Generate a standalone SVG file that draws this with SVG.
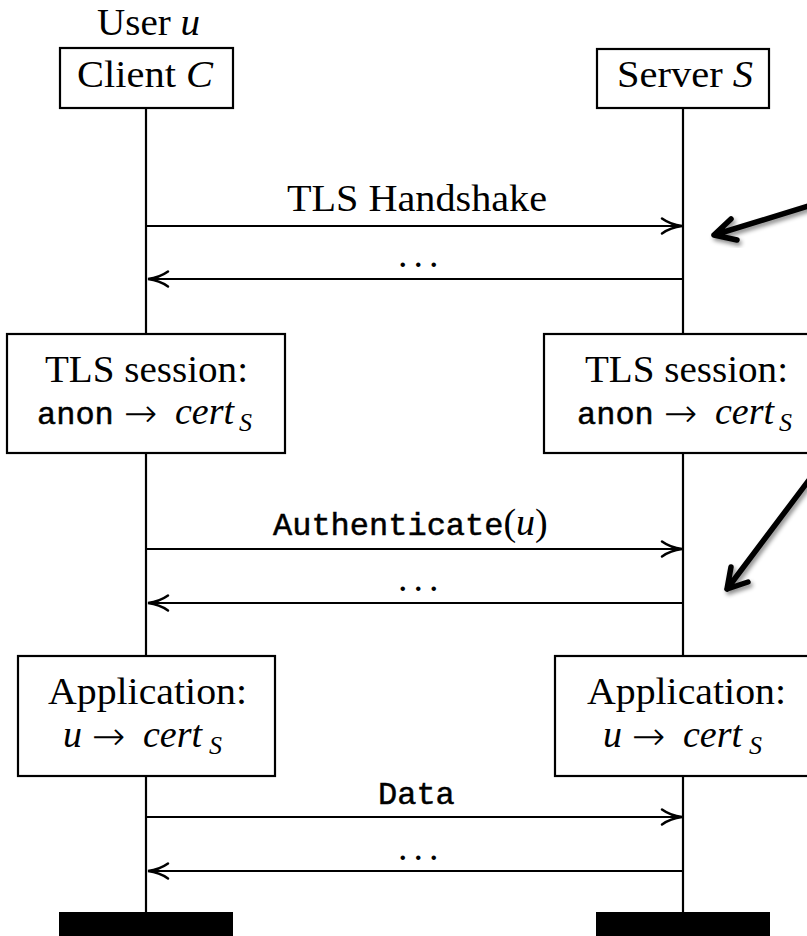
<svg xmlns="http://www.w3.org/2000/svg" width="807" height="936" viewBox="0 0 807 936">
  <defs>
    <marker id="to" viewBox="-22 -10 24 20" markerWidth="24" markerHeight="20" refX="0" refY="0" orient="auto" markerUnits="userSpaceOnUse">
      <path d="M-20,-7.5 C-13,-2.5 -5,-0.6 0,0 C-5,0.6 -13,2.5 -20,7.5" fill="none" stroke="#000" stroke-width="2.5" stroke-linecap="round"/>
    </marker>
    <filter id="shadow" x="-20%" y="-20%" width="140%" height="140%">
      <feDropShadow dx="2" dy="3" stdDeviation="2" flood-color="#000" flood-opacity="0.45"/>
    </filter>
  </defs>
  <style>
    .box { fill: #fff; stroke: #000; stroke-width: 2.2; }
    .life { stroke: #000; stroke-width: 2.2; fill: none; }
    .msg { stroke: #000; stroke-width: 2.2; fill: none; marker-end: url(#to); }
    .rm { font-family: "Liberation Serif", "Times New Roman", serif; font-size: 38px; fill: #000; }
    .it { font-family: "Liberation Serif", "Times New Roman", serif; font-style: italic; }
    .tt { font-family: "Liberation Mono", "Courier New", monospace; font-size: 32px; stroke: #000; stroke-width: 0.5; }
    .arr { font-family: "DejaVu Sans", sans-serif; font-weight: 200; font-size: 40px; }
    .sub { font-size: 26px; }
    .note { stroke: #000; stroke-width: 5.5; fill: none; stroke-linecap: round; stroke-linejoin: round; filter: url(#shadow); }
    .end { fill: #000; }
  </style>
  <rect width="807" height="936" fill="#fff"/>

  <!-- lifelines -->
  <g id="lifelines">
    <line class="life" x1="146" y1="108" x2="146" y2="334"/>
    <line class="life" x1="146" y1="453" x2="146" y2="656"/>
    <line class="life" x1="146" y1="776" x2="146" y2="912"/>
    <line class="life" x1="683" y1="108" x2="683" y2="334"/>
    <line class="life" x1="683" y1="453" x2="683" y2="656"/>
    <line class="life" x1="683" y1="776" x2="683" y2="912"/>
  </g>

  <!-- participants -->
  <g id="user-label">
    <text class="rm" x="97" y="35" textLength="103" lengthAdjust="spacingAndGlyphs">User <tspan class="it">u</tspan></text>
  </g>
  <g id="client">
    <rect class="box" x="60" y="48" width="173" height="60"/>
    <text class="rm" x="77" y="87" textLength="136" lengthAdjust="spacingAndGlyphs">Client <tspan class="it">C</tspan></text>
  </g>
  <g id="server">
    <rect class="box" x="597" y="49" width="172" height="59"/>
    <text class="rm" x="617" y="87" textLength="136" lengthAdjust="spacingAndGlyphs">Server <tspan class="it">S</tspan></text>
  </g>

  <!-- TLS session state -->
  <g id="client-tls">
    <rect class="box" x="7" y="334" width="278" height="119"/>
    <text class="rm" x="45" y="382" textLength="203" lengthAdjust="spacingAndGlyphs">TLS session:</text>
    <text class="rm" y="424"><tspan class="tt" x="37">anon</tspan><tspan class="arr" x="124" y="427">→</tspan><tspan class="it" x="175" y="424">cert</tspan><tspan class="it sub" x="239" y="431">S</tspan></text>
  </g>
  <g id="server-tls">
    <rect class="box" x="544" y="334" width="284" height="119"/>
    <text class="rm" x="585" y="382" textLength="203" lengthAdjust="spacingAndGlyphs">TLS session:</text>
    <text class="rm" y="424"><tspan class="tt" x="577">anon</tspan><tspan class="arr" x="664" y="427">→</tspan><tspan class="it" x="715" y="424">cert</tspan><tspan class="it sub" x="779" y="431">S</tspan></text>
  </g>

  <!-- application state -->
  <g id="client-app">
    <rect class="box" x="18" y="656" width="257" height="120"/>
    <text class="rm" x="48" y="704" textLength="199" lengthAdjust="spacingAndGlyphs">Application:</text>
    <text class="rm" y="747"><tspan class="it" x="63">u</tspan><tspan class="arr" x="92" y="750">→</tspan><tspan class="it" x="143" y="747">cert</tspan><tspan class="it sub" x="209" y="754">S</tspan></text>
  </g>
  <g id="server-app">
    <rect class="box" x="555" y="656" width="262" height="120"/>
    <text class="rm" x="587" y="704" textLength="199" lengthAdjust="spacingAndGlyphs">Application:</text>
    <text class="rm" y="747"><tspan class="it" x="603">u</tspan><tspan class="arr" x="632" y="750">→</tspan><tspan class="it" x="683" y="747">cert</tspan><tspan class="it sub" x="749" y="754">S</tspan></text>
  </g>

  <!-- lifeline ends -->
  <g id="client-end"><rect class="end" x="59" y="912" width="174" height="24"/></g>
  <g id="server-end"><rect class="end" x="596" y="912" width="174" height="24"/></g>

  <!-- messages -->
  <g id="connectors">
    <line class="msg" x1="147" y1="226" x2="682" y2="226"/>
    <line class="msg" x1="682" y1="279" x2="148" y2="279"/>
    <line class="msg" x1="147" y1="549" x2="682" y2="549"/>
    <line class="msg" x1="682" y1="603" x2="148" y2="603"/>
    <line class="msg" x1="147" y1="817" x2="682" y2="817"/>
    <line class="msg" x1="682" y1="871" x2="148" y2="871"/>

    <text class="rm" x="287" y="211" textLength="260" lengthAdjust="spacingAndGlyphs">TLS Handshake</text>
    <text class="rm" x="398" y="267" letter-spacing="6">...</text>
    <text class="rm" x="273" y="535"><tspan class="tt">Authenticate</tspan>(<tspan class="it">u</tspan>)</text>
    <text class="rm" x="398" y="591" letter-spacing="6">...</text>
    <text class="tt" x="378" y="804">Data</text>
    <text class="rm" x="398" y="860" letter-spacing="6">...</text>

    <!-- pointer arrows -->
    <path class="note" d="M815,204 L714,235 M731,219 L714,235 L737,240"/>
    <path class="note" d="M815,472 L727,589 M731,567 L727,589 L748,582"/>
  </g>
</svg>
